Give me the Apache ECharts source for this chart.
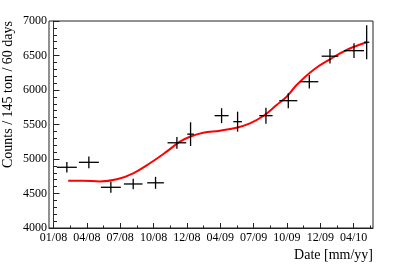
<!DOCTYPE html>
<html>
<head>
<meta charset="utf-8">
<script src="https://cdn.jsdelivr.net/npm/echarts@6/dist/echarts.min.js"></script>
<style>html,body{margin:0;padding:0;background:#fff;}#c{width:415px;height:268px;}</style>
</head>
<body>
<div id="c"></div>
<script>
// Tick labels (one per major tick on the date axis, index 0..9)
var tickLabels = ['01/08','04/08','07/08','10/08','12/08','04/09','07/09','10/09','12/09','04/10'];
// Data points (x in major-tick units)
var pointX    = [0.40, 1.06, 1.72, 2.39, 3.06, 3.70, 4.11, 5.04, 5.52, 6.37, 7.04, 7.67, 8.29, 9.01, 9.39];
var pointY    = [4880, 4952, 4590, 4638, 4655, 5235, 5360, 5628, 5541, 5628, 5845, 6120, 6490, 6570, 6692];
var pointXErr = [0.30, 0.30, 0.30, 0.28, 0.25, 0.28, 0.10, 0.21, 0.13, 0.20, 0.27, 0.27, 0.25, 0.30, 0.08];
var pointYErr = [75, 85, 80, 75, 87, 85, 172, 108, 145, 116, 108, 97, 106, 108, 248];
// Fit curve samples
var curveX = [0.44, 0.89, 1.39, 1.90, 2.39, 2.89, 3.39, 3.79, 4.09, 4.49, 4.99, 5.49, 5.89, 6.29, 6.69, 6.99, 7.29, 7.79, 8.29, 8.79, 9.39];
var curveY = [4686, 4686, 4675, 4706, 4793, 4938, 5106, 5251, 5323, 5381, 5410, 5454, 5517, 5623, 5783, 5903, 6072, 6290, 6445, 6580, 6691];

var majorTicks = tickLabels.map(function(_, i){ return i; });
var minorTicks = tickLabels.map(function(_, i){ return i + 0.5; });

var pts = pointX.map(function(x, i){ return [x, pointY[i], pointXErr[i], pointYErr[i]]; });
var curve = curveX.map(function(x, i){ return [x, curveY[i]]; });

var FONT = 'Liberation Serif';
var XMIN = -0.135, XMAX = 9.58;

var chart = echarts.init(document.getElementById('c'), null, {renderer: 'canvas'});
chart.setOption({
  animation: false,
  backgroundColor: '#fff',
  grid: {left: 49, right: 42, top: 21, bottom: 40, show: true, borderColor: '#222', borderWidth: 1, backgroundColor: 'transparent'},
  xAxis: [{
    type: 'value', min: XMIN, max: XMAX,
    axisLine: {show: true, onZero: false, lineStyle: {color: '#222', width: 1}},
    axisTick: {show: true, inside: true, length: 5, customValues: majorTicks, lineStyle: {color: '#222', width: 1}},
    axisLabel: {show: true, customValues: majorTicks, margin: 4, fontFamily: FONT, fontSize: 12, color: '#000',
      formatter: function(v){ var i = Math.round(v); return tickLabels[i] || ''; }},
    splitLine: {show: false}
  }, {
    type: 'value', min: XMIN, max: XMAX, position: 'bottom', gridIndex: 0,
    axisLine: {show: false},
    axisTick: {show: true, inside: true, length: 2.5, customValues: minorTicks, lineStyle: {color: '#222', width: 1}},
    axisLabel: {show: false},
    splitLine: {show: false}
  }],
  yAxis: {
    type: 'value', min: 4000, max: 7000, interval: 500,
    axisLine: {show: true, lineStyle: {color: '#333', width: 1}},
    axisTick: {show: true, inside: true, length: 6, lineStyle: {color: '#222', width: 1}},
    minorTick: {show: true, splitNumber: 5, length: 3.5, lineStyle: {color: '#222', width: 1}},
    axisLabel: {margin: 2, fontFamily: FONT, fontSize: 12, color: '#000', formatter: function(v){ return String(v); }},
    splitLine: {show: false}
  },
  graphic: [
    {type: 'text', x: 8, y: 21, rotation: Math.PI/2,
     style: {text: 'Counts / 145 ton / 60 days', font: '14px "Liberation Serif"', fill: '#000', textAlign: 'right', textVerticalAlign: 'middle'}},
    {type: 'text', x: 373, y: 255, style: {text: 'Date [mm/yy]', font: '14px "Liberation Serif"', fill: '#000', textAlign: 'right', textVerticalAlign: 'middle'}}
  ],
  series: [{
    type: 'line', data: curve, smooth: 0.4, showSymbol: false, symbol: 'none',
    lineStyle: {color: '#f00', width: 2}, z: 3
  }, {
    type: 'custom', data: pts, z: 4,
    renderItem: function(params, api){
      var x = api.value(0), y = api.value(1), ex = api.value(2), ey = api.value(3);
      var a = api.coord([x - ex, y]), b = api.coord([x + ex, y]);
      var c = api.coord([x, y - ey]), d = api.coord([x, y + ey]);
      var st = {stroke: '#000', lineWidth: 1.3};
      return {type: 'group', children: [
        {type: 'line', shape: {x1: a[0], y1: a[1], x2: b[0], y2: b[1]}, style: st},
        {type: 'line', shape: {x1: c[0], y1: c[1], x2: d[0], y2: d[1]}, style: st}
      ]};
    }
  }]
});
</script>
</body>
</html>
